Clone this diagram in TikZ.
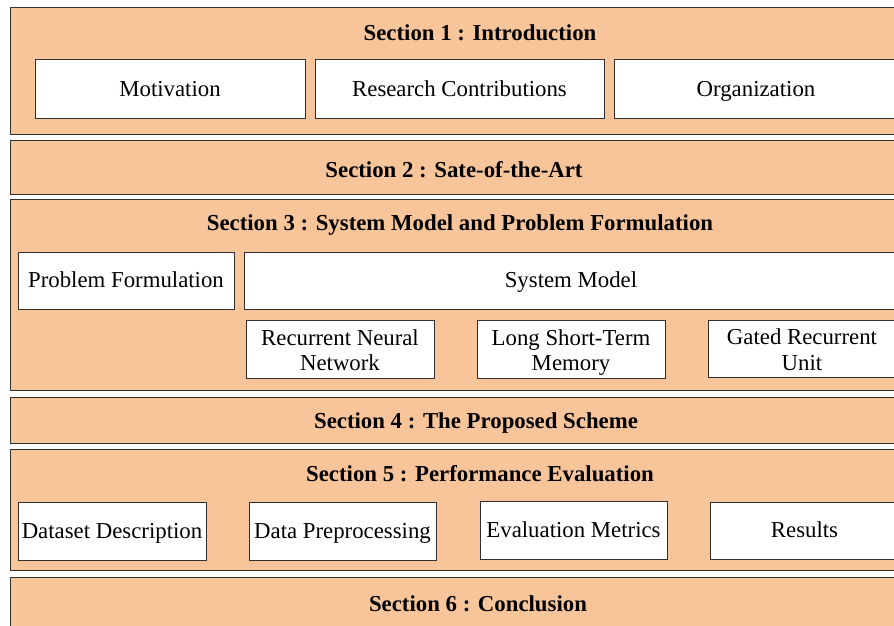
\documentclass[tikz,border=0pt]{standalone}
\usepackage{fontspec}
\setmainfont{Liberation Serif}
\definecolor{peach}{HTML}{F8C59A}
\definecolor{edge}{HTML}{303030}
\newcommand\twolines[2]{\rule{0pt}{18pt}\smash{#1}\\\smash{#2}}
\begin{document}
\begin{tikzpicture}[x=1pt,y=-1pt,
  outerbox/.style={draw=edge, fill=peach, line width=1pt, inner sep=0pt, outer sep=0pt, anchor=north west},
  innerbox/.style={draw=edge, fill=white, line width=1pt, inner sep=0pt, outer sep=0pt, anchor=north west, font=\fontsize{22.8}{25.7}\selectfont},
  oneline/.style={innerbox, text height=14pt, text depth=0pt},
  twoline/.style={innerbox, align=center},
  head/.style={inner sep=0pt, text height=14pt, text depth=0pt, font=\fontsize{22.8}{25.5}\selectfont\bfseries}]
\useasboundingbox (0,0) rectangle (894,626);
\clip (0,0) rectangle (894,626);
% outer section boxes
\node[outerbox, minimum width=900, minimum height=126] (s1) at (10,8) {};
\node[outerbox, minimum width=900, minimum height=54] (s2) at (10,140) {};
\node[outerbox, minimum width=900, minimum height=191] (s3) at (10,199) {};
\node[outerbox, minimum width=900, minimum height=46] (s4) at (10,397) {};
\node[outerbox, minimum width=900, minimum height=121] (s5) at (10,449) {};
\node[outerbox, minimum width=900, minimum height=80] (s6) at (10,577) {};
% headings
\node[head] (s1t) at (480,33.5) {Section 1 : Introduction};
\node[head] (s2t) at (454,170) {Section 2 : Sate-of-the-Art};
\node[head] (s3t) at (460,223) {Section 3 : System Model and Problem Formulation};
\node[head] (s4t) at (476,421) {Section 4 : The Proposed Scheme};
\node[head] (s5t) at (480,474) {Section 5 : Performance Evaluation};
\node[head] (s6t) at (478,604) {Section 6 : Conclusion};
% section 1
\node[oneline, minimum width=270, minimum height=58] (mot) at (35,60) {Motivation};
\node[oneline, minimum width=289, minimum height=58] (rc) at (315,60) {Research Contributions};
\node[oneline, minimum width=284, minimum height=58] (org) at (614,60) {Organization};
% section 3
\node[oneline, minimum width=216, minimum height=57] (pf) at (18,252) {Problem Formulation};
\node[oneline, minimum width=654, minimum height=57] (sm) at (244,252) {System Model};
\node[twoline, minimum width=188, minimum height=58] (rnn) at (246,320) {\twolines{Recurrent Neural}{Network}};
\node[twoline, minimum width=188, minimum height=58] (lstm) at (477,320) {\twolines{Long Short-Term}{Memory}};
\node[twoline, minimum width=188, minimum height=57] (gru) at (708,320) {\twolines{Gated Recurrent}{Unit}};
% section 5
\node[oneline, minimum width=188, minimum height=58] (dd) at (18,502) {Dataset Description};
\node[oneline, minimum width=187, minimum height=58] (dp) at (249,502) {Data Preprocessing};
\node[oneline, minimum width=187, minimum height=58] (em) at (480,501) {Evaluation Metrics};
\node[oneline, minimum width=189, minimum height=57] (res) at (710,502) {Results};
\end{tikzpicture}
\end{document}
